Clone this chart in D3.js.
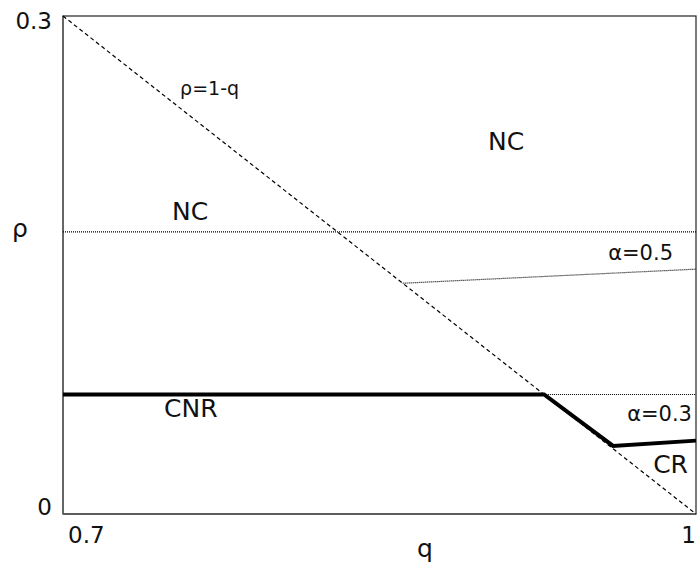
<!DOCTYPE html>
<html>
<head>
<meta charset="utf-8">
<script src="https://cdn.jsdelivr.net/npm/d3@7"></script>
<style>
  body { margin: 0; background: #fff; }
  text { font-family: "DejaVu Sans", sans-serif; fill: #111; }
</style>
</head>
<body>
<svg width="697" height="565"></svg>
<script>
// domains and ticks
const qDomain = [0.7, 1];
const rhoDomain = [0, 0.3];
const qTicks = [0.7, 1];
const rhoTicks = [0, 0.3];

// boundary curves (q, rho)
const diagQ = [0.7, 1];
const diagRho = [0.3, 0];
const ncQ = [0.7, 1];
const ncRho = [0.17, 0.17];
const alpha05Q = [0.861, 1];
const alpha05Rho = [0.139, 0.1475];
const alpha03Q = [0.928, 1];
const alpha03Rho = [0.072, 0.072];
const cnrQ = [0.7, 0.928, 0.9607, 1];
const cnrRho = [0.072, 0.072, 0.041, 0.0442];

// region labels
const labelText = ["ρ=1-q", "NC", "NC", "α=0.5", "α=0.3", "CR", "CNR"];
const labelQ = [0.7555, 0.9014, 0.7517, 0.9891, 0.9981, 0.9962, 0.7479];
const labelRho = [0.2524, 0.2193, 0.1771, 0.153, 0.056, 0.0247, 0.0584];
const labelAnchor = ["start", "start", "start", "end", "end", "end", "start"];
const labelSize = [19, 25, 25, 21, 21, 25, 25];

const svg = d3.select("svg");
const margin = { top: 16, right: 1, bottom: 51, left: 63 };
const width = +svg.attr("width") - margin.left - margin.right;
const height = +svg.attr("height") - margin.top - margin.bottom;

const g = svg.append("g").attr("transform", `translate(${margin.left},${margin.top})`);

const x = d3.scaleLinear().domain(qDomain).range([0, width]);
const y = d3.scaleLinear().domain(rhoDomain).range([height, 0]);

const line = d3.line().x(d => x(d[0])).y(d => y(d[1]));
const pairs = (a, b) => a.map((v, i) => [v, b[i]]);

// frame
g.append("rect")
    .attr("width", width).attr("height", height)
    .attr("fill", "none").attr("stroke", "#222").attr("stroke-width", 1.2);
g.append("line")
    .attr("x1", 0).attr("x2", 0).attr("y1", 0).attr("y2", height)
    .attr("stroke", "#666").attr("stroke-width", 2);
g.append("line")
    .attr("x1", 0).attr("x2", width).attr("y1", height).attr("y2", height)
    .attr("stroke", "#555").attr("stroke-width", 1.5);

// dotted boundaries
[[ncQ, ncRho], [alpha05Q, alpha05Rho], [alpha03Q, alpha03Rho]].forEach(([q, r]) => {
    g.append("path")
        .attr("d", line(pairs(q, r)))
        .attr("fill", "none").attr("stroke", "#000")
        .attr("stroke-width", 1.2).attr("stroke-dasharray", "1,1");
});

// rho = 1 - q
g.append("path")
    .attr("d", line(pairs(diagQ, diagRho)))
    .attr("fill", "none").attr("stroke", "#000")
    .attr("stroke-width", 1.2).attr("stroke-dasharray", "4,3");

// thick CNR / CR border
g.append("path")
    .attr("d", line(pairs(cnrQ, cnrRho)))
    .attr("fill", "none").attr("stroke", "#000")
    .attr("stroke-width", 4).attr("stroke-linejoin", "miter");

// labels
labelText.forEach((t, i) => {
    g.append("text")
        .attr("x", x(labelQ[i])).attr("y", y(labelRho[i]))
        .attr("text-anchor", labelAnchor[i])
        .style("font-size", labelSize[i] + "px")
        .text(t);
});

// tick labels
rhoTicks.forEach(v => {
    g.append("text")
        .attr("x", -11).attr("y", y(v) + (v === 0 ? 1 : 13))
        .attr("text-anchor", "end")
        .style("font-size", "23px")
        .text(d3.format("~g")(v));
});
qTicks.forEach((v, i) => {
    g.append("text")
        .attr("x", x(v) + (i === 0 ? 5 : 0)).attr("y", height + 29)
        .attr("text-anchor", i === 0 ? "start" : "end")
        .style("font-size", "23px")
        .text(d3.format("~g")(v));
});

// axis titles
g.append("text")
    .attr("x", 425 - margin.left).attr("y", height + 43)
    .attr("text-anchor", "middle")
    .style("font-size", "25px")
    .text("q");
g.append("text")
    .attr("x", 20 - margin.left).attr("y", 237 - margin.top)
    .attr("text-anchor", "middle")
    .style("font-size", "25px")
    .text("ρ");
</script>
</body>
</html>
